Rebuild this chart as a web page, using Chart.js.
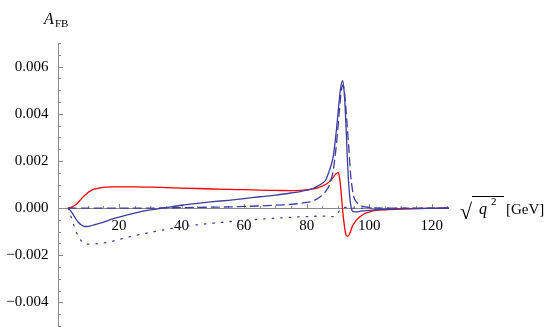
<!DOCTYPE html>
<html>
<head>
<meta charset="utf-8">
<script src="https://cdn.jsdelivr.net/npm/chart.js@4.4.1/dist/chart.umd.min.js"></script>
<style>
  html, body { margin: 0; padding: 0; background: #fff; }
  #wrap { width: 545px; height: 327px; }
</style>
</head>
<body>
<div id="wrap"><canvas id="afbChart" width="545" height="327"></canvas></div>
<script>
// sqrt(q^2) in GeV, shared by all four curves
var qValues = [3.8, 5, 6, 7, 8, 9, 10, 11, 12, 14, 16, 18, 20, 25, 30, 35, 40, 45, 50, 55,
  60, 65, 70, 75, 78, 80, 82, 84, 85, 86, 87, 88, 88.5, 89, 89.5, 90, 90.5, 91, 91.5, 92,
  92.5, 93, 93.5, 94, 94.5, 95, 96, 97, 98, 100, 102, 105, 110, 115, 120, 125.5];

var redSolid = [0, 0.00005, 0.00013, 0.00025, 0.0004, 0.00053, 0.00065, 0.00074, 0.0008, 0.00086,
  0.00089, 0.0009, 0.0009, 0.0009, 0.00089, 0.00087, 0.00085, 0.00083, 0.00081, 0.00079,
  0.00078, 0.00076, 0.00075, 0.00074, 0.00075, 0.00077, 0.00081, 0.00088, 0.00093, 0.001,
  0.00109, 0.00122, 0.0013, 0.0014, 0.00147, 0.0015, 0.0013, 0.0007, -0.0001, -0.0007,
  -0.0011, -0.0012, -0.00115, -0.001, -0.0008, -0.00068, -0.0005, -0.00037, -0.00027, -0.00017,
  -0.0001, -0.00007, -0.00004, -0.00002, -0.00001, 0];

var blueSolid = [0, -0.0002, -0.00042, -0.0006, -0.00072, -0.00078, -0.00078, -0.00075, -0.00071, -0.00064,
  -0.00055, -0.00046, -0.00038, -0.00021, -0.00008, 0.00002, 0.00012, 0.0002, 0.00027, 0.00033,
  0.0004, 0.00048, 0.00055, 0.00064, 0.0007, 0.00076, 0.00083, 0.00097, 0.00105, 0.00117,
  0.0015, 0.0019, 0.0022, 0.0027, 0.0033, 0.004, 0.0047, 0.0052, 0.0054, 0.0049,
  0.0037, 0.0021, 0.0009, 0.0002, -0.0001, -0.00015, -0.00016, -0.00014, -0.00012, -0.0001,
  -0.00007, -0.00005, -0.00003, -0.00002, -0.00001, 0];

var blueDashed = [0, 0, 0, 0, 0, 0, 0, 0, 0, 0,
  0, 0, 0, 0, 0, 0.00001, 0.00002, 0.00003, 0.00004, 0.00005,
  0.00007, 0.00009, 0.00012, 0.00016, 0.0002, 0.00024, 0.0003, 0.00045, 0.00055, 0.0007,
  0.0009, 0.0013, 0.0016, 0.0021, 0.0027, 0.0034, 0.0042, 0.0049, 0.0052, 0.005,
  0.0043, 0.0034, 0.0025, 0.0015, 0.0009, 0.0005, 0.00025, 0.00013, 0.00007, 0.00003,
  0.00001, 0, 0, 0, 0, 0];

var blueDotted = [0, -0.0005, -0.0009, -0.0012, -0.0014, -0.0015, -0.00153, -0.00153, -0.00152, -0.0015,
  -0.00146, -0.0014, -0.00133, -0.00117, -0.00103, -0.00091, -0.0008, -0.00071, -0.00064, -0.00058,
  -0.00052, -0.00047, -0.00043, -0.00039, -0.00037, -0.00036, -0.00035, -0.00034, -0.00034, -0.00034,
  -0.00035, -0.00036, -0.00036, -0.00035, -0.0003, -0.0002, -0.0001, -0.00003, 0.00002, 0.00003,
  0.00003, 0.00002, 0.00001, 0, 0, 0, 0, 0, 0, 0,
  0, 0, 0, 0, 0, 0];

var xTickValues = [20, 40, 60, 80, 100, 120];
var xTickLabels = ["20", "40", "60", "80", "100", "120"];
var yTickValues = [-0.004, -0.002, 0, 0.002, 0.004, 0.006];
var yTickLabels = ["\u22120.004", "\u22120.002", "0.000", "0.002", "0.004", "0.006"];

var RED = "#ff0000";
var BLUE = "#3d3d9e";
var AXIS = "#8a8a8a";
var FONT = '"Liberation Serif", "Times New Roman", serif';

function toPoints(ys) {
  var pts = [];
  for (var i = 0; i < qValues.length; i += 1) {
    pts.push({x: qValues[i], y: ys[i]});
  }
  return pts;
}

function lineSet(label, ys, color, dash) {
  return {
    label: label,
    data: toPoints(ys),
    borderColor: color,
    borderWidth: 1.3,
    borderDash: dash,
    borderCapStyle: dash.length ? 'round' : 'butt',
    pointRadius: 0,
    fill: false,
    cubicInterpolationMode: 'monotone'
  };
}

// Mathematica style axes: crossing at the origin, ticks pointing inward
var axesPlugin = {
  id: 'mmaAxes',
  beforeDatasetsDraw: function(chart) {
    var ctx = chart.ctx;
    var area = chart.chartArea;
    var xs = chart.scales.x;
    var ys = chart.scales.y;
    var y0 = Math.round(ys.getPixelForValue(0)) + 0.5;
    var x0 = Math.round(area.left) + 0.5;
    var v, p, i;

    ctx.save();
    ctx.strokeStyle = AXIS;
    ctx.lineWidth = 1;
    ctx.beginPath();
    ctx.moveTo(x0, area.top);
    ctx.lineTo(x0, area.bottom + 2);
    ctx.moveTo(area.left, y0);
    ctx.lineTo(area.right, y0);

    // minor + major ticks on y
    for (v = -0.005; v <= 0.00701; v += 0.0005) {
      p = Math.round(ys.getPixelForValue(v)) + 0.5;
      var major = Math.abs(v / 0.002 - Math.round(v / 0.002)) < 1e-6;
      ctx.moveTo(x0, p);
      ctx.lineTo(x0 + (major ? 4.5 : 2.5), p);
    }
    // minor + major ticks on x
    for (v = 5; v <= 125; v += 5) {
      p = Math.round(xs.getPixelForValue(v)) + 0.5;
      ctx.moveTo(p, y0);
      ctx.lineTo(p, y0 - (v % 20 === 0 ? 4.5 : 2.5));
    }
    ctx.stroke();

    ctx.fillStyle = "#000";
    ctx.font = '15px ' + FONT;
    ctx.textAlign = 'right';
    ctx.textBaseline = 'middle';
    for (i = 0; i < yTickValues.length; i += 1) {
      ctx.fillText(yTickLabels[i], x0 - 10, ys.getPixelForValue(yTickValues[i]));
    }
    ctx.textAlign = 'center';
    ctx.textBaseline = 'top';
    for (i = 0; i < xTickValues.length; i += 1) {
      ctx.fillText(xTickLabels[i], xs.getPixelForValue(xTickValues[i]), y0 + 10);
    }

    // axis titles
    ctx.textAlign = 'left';
    ctx.textBaseline = 'alphabetic';
    ctx.font = 'italic 16px ' + FONT;
    ctx.fillText("A", 44, 24);
    ctx.font = '11px ' + FONT;
    ctx.fillText("FB", 55, 27);

    ctx.font = '22px ' + FONT;
    ctx.fillText("\u221a", 460, 219);
    ctx.beginPath();
    ctx.moveTo(472, 196.5);
    ctx.lineTo(504, 196.5);
    ctx.strokeStyle = "#000";
    ctx.stroke();
    ctx.font = 'italic 16px ' + FONT;
    ctx.fillText("q", 479, 214);
    ctx.font = '11px ' + FONT;
    ctx.fillText("2", 491, 205);
    ctx.font = '15px ' + FONT;
    ctx.fillText("[GeV]", 506, 214);
    ctx.restore();
  }
};

var canvas = document.getElementById('afbChart');
var myChart = new Chart(canvas, {
  type: 'line',
  data: {
    datasets: [
      lineSet("blue dotted", blueDotted, BLUE, [1.5, 7]),
      lineSet("blue dashed", blueDashed, BLUE, [8, 5]),
      lineSet("blue solid", blueSolid, BLUE, []),
      lineSet("red solid", redSolid, RED, [])
    ]
  },
  options: {
    responsive: false,
    animation: false,
    devicePixelRatio: 1,
    layout: { padding: { left: 58, top: 43, right: 96, bottom: 1 } },
    plugins: { legend: { display: false }, tooltip: { enabled: false } },
    scales: {
      x: { type: 'linear', min: 0.5, max: 125.5, display: false },
      y: { type: 'linear', min: -0.005, max: 0.007, display: false }
    }
  },
  plugins: [axesPlugin]
});
</script>
</body>
</html>
